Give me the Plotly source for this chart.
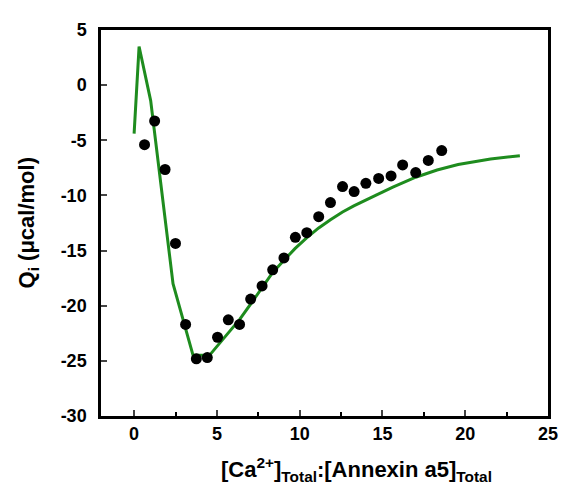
import plotly.graph_objects as go

# Observed injection heats
x_obs = [0.63, 1.24, 1.87, 2.50, 3.11, 3.76, 4.42, 5.04, 5.69, 6.37, 7.04, 7.73, 8.37, 9.05,
         9.74, 10.43, 11.15, 11.86, 12.59, 13.29, 14.00, 14.77, 15.52, 16.22, 17.01, 17.77, 18.58]
y_obs = [-5.40, -3.25, -7.65, -14.35, -21.70, -24.82, -24.70, -22.86, -21.28, -21.70, -19.40,
         -18.21, -16.75, -15.67, -13.80, -13.38, -11.93, -10.65, -9.20, -9.65, -8.90, -8.46,
         -8.23, -7.23, -7.93, -6.83, -5.93]

# Model fit curve
x_fit = [0, 0.3, 1.0, 2.35, 3.56, 4.55, 5.5, 6.4, 7.3, 8.36, 9.04, 9.73, 10.42, 11.15, 11.86,
         12.59, 13.27, 14.0, 14.65, 15.63, 16.22, 17.01, 18.3, 19.57, 21.53, 23.3]
y_fit = [-4.4, 3.5, -1.4, -18.0, -24.5, -24.5, -22.8, -21.2, -19.3, -17.0, -15.9, -14.8, -13.85,
         -12.95, -12.2, -11.5, -10.95, -10.4, -9.95, -9.25, -8.85, -8.35, -7.7, -7.2, -6.7, -6.4]

x_ticks = [0, 5, 10, 15, 20, 25]
x_minor = [2.5, 7.5, 12.5, 17.5, 22.5]
y_ticks = [5, 0, -5, -10, -15, -20, -25, -30]
y_tick_labels = ["5", "0", "-5", "-10", "-15", "-20", "-25", "-30"]

FONT = "Liberation Sans, Arial, sans-serif"
GREEN = "#1E8C1E"

fig = go.Figure()
fig.add_trace(go.Scatter(x=x_fit, y=y_fit, mode="lines",
                         line=dict(color=GREEN, width=3), showlegend=False))
fig.add_trace(go.Scatter(x=x_obs, y=y_obs, mode="markers",
                         marker=dict(color="black", size=11), showlegend=False))

# page has an 8px body margin; figure placed so the plot box spans x 101-557, y 23-416
W, H = 562, 490
L, R, T, B = 93, 13, 15, 82
pw, ph = W - L - R, H - T - B
OFF = 8

fig.update_layout(
    width=W, height=H,
    margin=dict(l=L, r=R, t=T, b=B),
    plot_bgcolor="white", paper_bgcolor="white",
    font=dict(family=FONT, color="black"),
    xaxis=dict(range=[-2, 25], tickvals=x_ticks, ticks="inside", ticklen=6, tickwidth=2,
               showline=True, linewidth=2.5, linecolor="black", mirror=True,
               showgrid=False, zeroline=False,
               tickfont=dict(size=18, family=FONT, weight="bold"),
               minor=dict(tickvals=x_minor, ticks="inside",
                          ticklen=4, tickwidth=2, tickcolor="black", showgrid=False)),
    yaxis=dict(range=[-30, 5], tickvals=y_ticks, ticktext=y_tick_labels,
               ticks="inside", ticklen=6, tickwidth=2, ticklabelstandoff=8,
               showline=True, linewidth=2.5, linecolor="black", mirror=True,
               showgrid=False, zeroline=False,
               tickfont=dict(size=18, family=FONT, weight="bold")),
    annotations=[
        dict(text="<b>[Ca<sup>2+</sup>]<sub>Total</sub>:[Annexin a5]<sub>Total</sub></b>",
             xref="paper", yref="paper",
             x=(362 - OFF - L) / pw, y=(H - B - (470 - OFF)) / ph,
             xanchor="center", yanchor="middle", showarrow=False,
             font=dict(size=22, family=FONT)),
        dict(text="<b>Q<sub>i</sub> (μcal/mol)</b>",
             xref="paper", yref="paper",
             x=(27 - OFF - L) / pw, y=0.5, textangle=-90,
             xanchor="center", yanchor="middle", showarrow=False,
             font=dict(size=22, family=FONT)),
    ],
)

fig.write_html("out.html")
